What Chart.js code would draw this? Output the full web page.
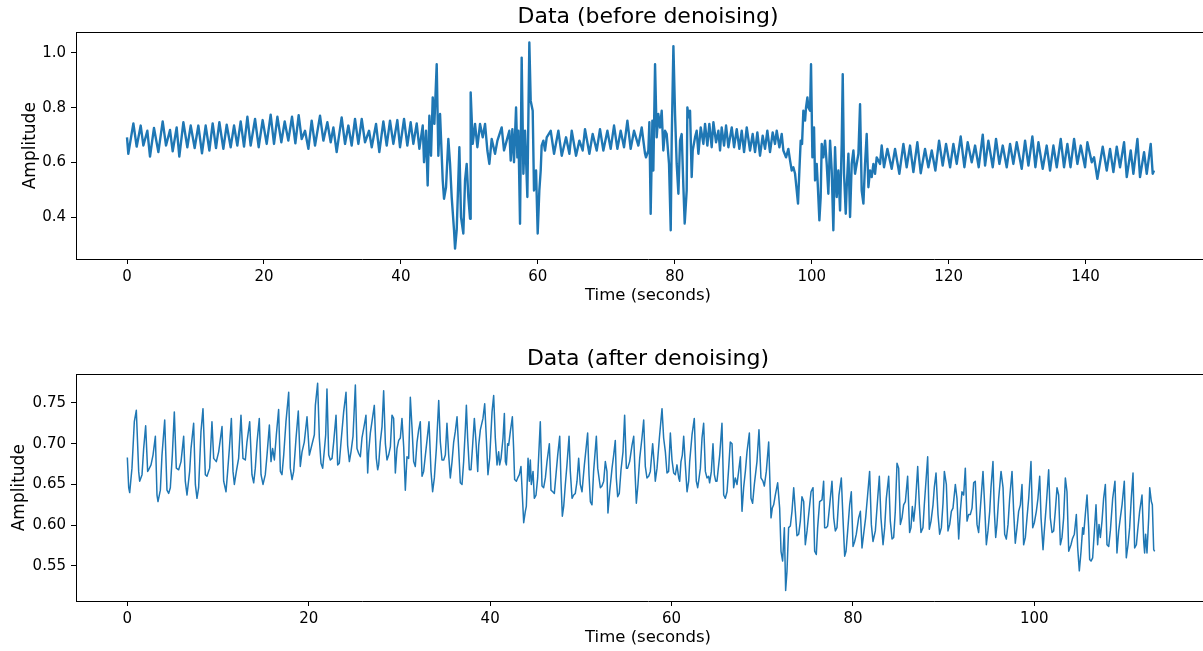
<!DOCTYPE html>
<html>
<head>
<meta charset="utf-8">
<script src="https://cdn.jsdelivr.net/npm/chart.js@4.4.1/dist/chart.umd.min.js"></script>
<style>
  html, body { margin: 0; padding: 0; background: #fff; overflow: hidden; }
  canvas { position: absolute; left: 0; }
  #topChart { top: 0; }
  #bottomChart { top: 342px; }
</style>
</head>
<body>
<canvas id="topChart" width="1220" height="310"></canvas>
<canvas id="bottomChart" width="1220" height="310"></canvas>
<script>
// --- data ---
const rawTime = [
  0, 0.19, 0.93, 1.41, 2.0, 2.39, 2.97, 3.36, 3.94, 4.58,
  5.21, 5.70, 6.28, 6.67, 7.25, 7.64, 8.23, 8.81, 9.30, 9.88,
  10.42, 10.95, 11.49, 12.03, 12.51, 13.0, 13.49, 14.07, 14.56, 15.14,
  15.63, 16.11, 16.6, 17.09, 17.58, 18.06, 18.7, 19.23, 19.81, 20.4,
  20.98, 21.47, 21.96, 22.54, 23.03, 23.56, 24.1, 24.59, 25.07, 25.51,
  26.0, 26.49,
  26.97, 27.46, 28.19, 28.68, 29.26, 29.75, 30.14, 30.62, 31.35, 31.84,
  32.33, 32.81, 33.3, 33.79, 34.28, 34.76, 35.35, 35.74, 36.37, 36.85,
  37.44, 37.93, 38.41, 38.9, 39.48, 39.87, 40.46, 40.94, 41.43, 41.82,
  42.31, 42.7, 43.19, 43.38, 43.67, 43.91, 44.16, 44.4, 44.65, 44.89,
  45.23, 45.47, 45.72, 46.11, 46.3, 46.59, 46.93, 47.18, 47.42, 47.76,
  47.91, 48.15, 48.54, 48.78, 49.12, 49.37, 49.61, 49.85, 50.1, 50.19,
  50.49, 50.83, 51.17, 51.56, 51.95, 52.29, 52.63, 52.92, 53.26, 53.75,
  54.1,
  54.72, 55.06, 55.45, 55.84, 56.04, 56.28, 56.52, 56.82, 57.01, 57.16,
  57.40, 57.64, 57.89, 58.13, 58.47, 58.76, 58.96, 59.25, 59.44, 59.74,
  59.98, 60.22, 60.42, 60.56, 60.81, 61.05, 61.30, 61.88, 62.37, 63.0,
  63.49, 64.12, 64.61, 64.95, 65.58, 66.07, 66.55, 66.89, 67.53, 68.01,
  68.60, 69.08, 69.57, 70.16, 70.64, 71.13, 71.62, 72.10, 72.59, 73.08,
  73.56, 74.05, 74.68, 75.17, 75.66, 75.80, 76.14, 76.29, 76.48, 76.73,
  76.87, 77.12, 77.36, 77.60, 77.85, 78.09, 78.33, 78.58, 78.82, 79.16,
  79.41, 79.55, 79.80, 80.04, 80.28, 80.53, 80.77, 81.01, 81.26, 81.45,
  81.74, 81.84, 82.04, 82.23, 82.47, 82.62, 82.96, 83.20, 83.45, 83.79,
  84.18, 84.42, 84.76, 85.05, 85.39, 85.64, 86.03, 86.37, 86.61, 86.85,
  87.20, 87.49, 87.83, 88.32, 88.66, 89.05, 89.43, 89.78, 90.12, 90.51,
  90.99, 91.38, 91.72, 92.06, 92.45, 92.84, 93.18, 93.52, 93.91, 94.30,
  94.64, 94.89, 95.28, 95.62, 95.86, 96.25, 96.59, 96.84, 97.08, 97.32,
  97.57, 97.81, 98.00, 98.20, 98.39, 98.59, 98.78, 99.03, 99.17, 99.37,
  99.51, 99.76, 99.90, 100.10, 100.34, 100.49, 100.73, 100.88, 101.12, 101.31,
  101.46, 101.70, 101.95, 102.19, 102.43, 102.68, 102.92, 103.16, 103.41, 103.65,
  103.89, 104.14, 104.38, 104.53, 104.72, 104.97, 105.11, 105.36, 105.60, 105.84,
  106.09, 106.33, 106.57, 106.82, 107.06, 107.30, 107.55, 107.79, 108.03, 108.28,
  108.52, 108.76, 109.01, 109.25, 109.49, 109.98,
  110.22, 110.56, 111.05, 111.68, 112.17, 112.80, 113.39, 113.87, 114.36, 114.85,
  115.43, 115.92, 116.55, 117.04, 117.53, 118.06, 118.60, 119.13, 119.62, 120.21,
  120.69, 121.18, 121.76, 122.30, 122.78, 123.37, 123.86, 124.39, 124.98, 125.32,
  125.80, 126.44, 126.92, 127.41, 127.90, 128.48, 128.97, 129.45, 129.94, 130.67,
  131.16, 131.65, 132.23, 132.67, 133.11, 133.74, 134.32, 134.81, 135.30, 135.79,
  136.37, 136.85, 137.34, 137.80,
  138.32, 138.80, 139.29, 139.92, 140.26, 140.90, 141.24, 141.72, 142.50, 143.09,
  143.57, 144.06, 144.55, 145.03, 145.62, 146.01, 146.59, 146.98, 147.57, 147.95,
  148.54, 148.93, 149.51, 149.80, 150.0
];
const rawAmp = [
  0.692, 0.632, 0.743, 0.658, 0.735, 0.662, 0.716, 0.622, 0.726, 0.638,
  0.750, 0.662, 0.719, 0.641, 0.728, 0.622, 0.747, 0.656, 0.735, 0.653,
  0.735, 0.634, 0.735, 0.644, 0.743, 0.653, 0.747, 0.650, 0.738, 0.656,
  0.735, 0.662, 0.750, 0.658, 0.767, 0.662, 0.759, 0.656, 0.755, 0.668,
  0.775, 0.668, 0.767, 0.674, 0.750, 0.680, 0.767, 0.670, 0.773, 0.686,
  0.716, 0.650,
  0.753, 0.662, 0.771, 0.680, 0.747, 0.674, 0.728, 0.638, 0.765, 0.668,
  0.735, 0.662, 0.759, 0.668, 0.759, 0.674, 0.716, 0.656, 0.741, 0.638,
  0.750, 0.662, 0.753, 0.668, 0.755, 0.656, 0.759, 0.662, 0.747, 0.668,
  0.743, 0.650, 0.735, 0.601, 0.716, 0.516, 0.771, 0.625, 0.838, 0.741,
  0.959, 0.625, 0.777, 0.535, 0.468, 0.510, 0.686, 0.595, 0.474, 0.353,
  0.286, 0.353, 0.656, 0.401, 0.341, 0.535, 0.595, 0.474, 0.395, 0.856,
  0.668, 0.741, 0.656, 0.741, 0.692, 0.741, 0.644, 0.595, 0.686, 0.632,
  0.680,
  0.728, 0.644, 0.680, 0.716, 0.607, 0.722, 0.601, 0.801, 0.619, 0.716,
  0.377, 0.983, 0.559, 0.716, 0.474, 1.038, 0.825, 0.789, 0.498, 0.571,
  0.341, 0.498, 0.571, 0.662, 0.680, 0.644, 0.692, 0.716, 0.632, 0.716,
  0.625, 0.692, 0.632, 0.716, 0.625, 0.680, 0.644, 0.722, 0.632, 0.704,
  0.644, 0.722, 0.644, 0.716, 0.650, 0.735, 0.650, 0.716, 0.656, 0.753,
  0.650, 0.716, 0.662, 0.728, 0.632, 0.619, 0.644, 0.747, 0.413, 0.753,
  0.571, 0.959, 0.692, 0.777, 0.728, 0.789, 0.644, 0.716, 0.704, 0.595,
  0.353, 0.680, 1.025, 0.777, 0.595, 0.486, 0.680, 0.704, 0.510, 0.377,
  0.498, 0.801, 0.765, 0.789, 0.547, 0.644, 0.692, 0.716, 0.632, 0.728,
  0.668, 0.741, 0.662, 0.741, 0.656, 0.747, 0.674, 0.716, 0.644, 0.728,
  0.662, 0.735, 0.656, 0.728, 0.656, 0.722, 0.650, 0.716, 0.638, 0.728,
  0.644, 0.704, 0.638, 0.710, 0.625, 0.698, 0.650, 0.716, 0.638, 0.710,
  0.668, 0.716, 0.656, 0.704, 0.644, 0.619, 0.650, 0.607, 0.571, 0.583,
  0.559, 0.498, 0.450, 0.571, 0.680, 0.668, 0.789, 0.753, 0.801, 0.838,
  0.801, 0.789, 0.959, 0.619, 0.728, 0.535, 0.595, 0.522, 0.389, 0.474,
  0.668, 0.619, 0.680, 0.595, 0.486, 0.680, 0.571, 0.353, 0.656, 0.474,
  0.571, 0.425, 0.668, 0.922, 0.559, 0.413, 0.510, 0.632, 0.401, 0.595,
  0.644, 0.559, 0.595, 0.632, 0.813, 0.498, 0.450, 0.595, 0.704, 0.510,
  0.571, 0.547, 0.595, 0.559, 0.619, 0.595,
  0.662, 0.583, 0.650, 0.577, 0.650, 0.559, 0.668, 0.583, 0.662, 0.565,
  0.674, 0.561, 0.650, 0.583, 0.644, 0.571, 0.680, 0.589, 0.668, 0.583,
  0.668, 0.595, 0.695, 0.583, 0.674, 0.601, 0.662, 0.583, 0.702, 0.589,
  0.680, 0.583, 0.686, 0.595, 0.662, 0.583, 0.668, 0.595, 0.674, 0.577,
  0.680, 0.589, 0.695, 0.583, 0.674, 0.577, 0.662, 0.571, 0.662, 0.583,
  0.686, 0.583, 0.668, 0.583,
  0.686, 0.595, 0.662, 0.583, 0.674, 0.601, 0.619, 0.541, 0.658, 0.571,
  0.650, 0.565, 0.658, 0.583, 0.674, 0.547, 0.644, 0.559, 0.686, 0.547,
  0.638, 0.559, 0.668, 0.559, 0.571
];

const cleanTime = [
  0, 0.15, 0.26, 0.51, 0.77, 0.99, 1.25, 1.36, 1.62, 1.80,
  2.02, 2.24, 2.35, 2.61, 2.83, 3.09, 3.27, 3.38, 3.64, 3.82,
  4.12, 4.37, 4.56, 4.74, 4.96, 5.18, 5.40, 5.66, 5.92, 6.21,
  6.39, 6.58, 6.87, 7.02, 7.31, 7.50, 7.68, 7.86, 8.12, 8.34,
  8.60, 8.78, 9.08, 9.33, 9.52, 9.81, 10.07, 10.44, 10.62, 10.88,
  11.06, 11.25, 11.47, 11.65, 11.80, 12.02, 12.27, 12.53, 12.75, 13.01,
  13.19, 13.49, 13.74, 13.93, 14.11, 14.30, 14.55, 14.74, 14.96, 15.21,
  15.40, 15.66, 15.84, 16.02, 16.21, 16.43, 16.68, 16.87, 17.05, 17.24,
  17.49, 17.79, 17.97, 18.16, 18.34, 18.60, 18.85, 19.07, 19.26, 19.51,
  19.81, 20.07,
  20.62, 20.73, 20.98, 21.17, 21.35, 21.54, 21.72, 21.87, 22.01, 22.20,
  22.38, 22.57, 22.75, 23.01, 23.19, 23.37, 23.56, 23.85, 24.11, 24.29,
  24.48, 24.66, 24.88, 25.14, 25.32, 25.51, 25.69, 25.87, 26.13, 26.31,
  26.50, 26.61, 26.79, 27.23, 27.45, 27.60, 27.71, 27.89, 28.08, 28.26,
  28.45, 28.63, 28.81, 29.00, 29.18, 29.36, 29.55, 29.73, 29.92, 30.10,
  30.28, 30.47, 30.65, 30.83, 31.02, 31.20, 31.39, 31.57, 31.75, 31.94,
  32.12, 32.30, 32.49, 32.67, 32.86, 33.04, 33.26, 33.48, 33.66, 33.85,
  34.07, 34.33, 34.51, 34.69, 34.88, 35.06, 35.24, 35.43, 35.61, 35.80,
  35.98, 36.16, 36.35, 36.53, 36.71, 36.90, 37.08, 37.27, 37.38, 37.52,
  37.71, 37.89, 38.07, 38.26, 38.44, 38.63, 38.74, 38.92, 39.21, 39.40,
  39.58, 39.76, 39.95, 40.21, 40.39, 40.57, 40.76, 40.94,
  41.05, 41.20, 41.42, 41.57, 41.68, 41.79, 41.93, 42.04, 42.23, 42.45,
  42.59, 42.70, 42.89, 43.04, 43.22, 43.40, 43.51, 43.70, 43.88, 43.99,
  44.18, 44.32, 44.43, 44.54, 44.73, 44.87, 45.06, 45.24, 45.53, 45.72,
  45.90, 46.09, 46.27, 46.53, 46.71, 46.90, 47.08, 47.26, 47.45, 47.67,
  47.81, 47.96, 48.11, 48.29, 48.47, 48.70, 48.84, 49.03, 49.21, 49.39,
  49.58, 49.76, 49.94, 50.13, 50.39, 50.75, 50.90, 51.05, 51.23, 51.41,
  51.71, 51.86, 52.15, 52.33, 52.52, 52.70, 52.88, 52.99, 53.18, 53.44,
  53.62, 53.80, 53.91, 54.06, 54.24, 54.43, 54.65, 54.83, 55.02, 55.16,
  55.38, 55.64, 55.83, 55.97, 56.12, 56.30, 56.49, 56.74, 56.93, 57.11,
  57.29, 57.48, 57.66, 57.92, 58.10, 58.21, 58.40, 58.66, 58.95, 59.13,
  59.32, 59.50, 59.68, 59.87, 60.05, 60.24, 60.42, 60.60, 60.79, 60.90,
  61.04, 61.19, 61.34, 61.52, 61.71, 61.89,
  62.00, 62.26, 62.51, 62.73, 62.88, 62.99, 63.18, 63.36, 63.54, 63.73,
  63.91, 64.09, 64.20, 64.39, 64.57, 64.72, 64.87, 65.01, 65.31, 65.56,
  65.75, 65.93, 66.12, 66.30, 66.48, 66.67, 66.85, 67.03, 67.22, 67.40,
  67.59, 67.77, 67.95, 68.14, 68.32, 68.58, 68.76, 68.94, 69.13, 69.42,
  69.64, 69.86, 70.08, 70.23, 70.45, 70.71, 70.97, 71.11, 71.26, 71.44,
  71.70, 71.92, 72.07, 72.25, 72.44, 72.58, 72.73, 72.91, 73.10, 73.28,
  73.47, 73.65, 73.83, 74.02, 74.20, 74.38, 74.57, 74.75, 74.94, 75.12,
  75.38, 75.60, 75.78, 75.96, 76.11, 76.33, 76.59, 76.77, 76.88, 77.07,
  77.21, 77.44, 77.69, 77.88, 78.06, 78.24, 78.46, 78.72, 78.90, 79.09,
  79.24, 79.42, 79.64, 79.82, 80.01, 80.19, 80.37, 80.63, 80.82, 81.00,
  81.18, 81.40, 81.62, 81.84, 82.03, 82.21, 82.47, 82.73, 82.91,
  83.09, 83.32, 83.50, 83.68, 83.94, 84.12, 84.31, 84.49, 84.67, 84.86,
  85.04, 85.23, 85.41, 85.59, 85.78, 86.03, 86.25, 86.40, 86.55, 86.70,
  86.88, 87.14, 87.32, 87.50, 87.72, 87.87, 88.24, 88.42, 88.61, 88.83,
  88.97, 89.16, 89.38, 89.56, 89.75, 89.93, 90.08, 90.30, 90.48, 90.67,
  90.85, 91.03, 91.29, 91.47, 91.66, 91.84, 92.02, 92.21, 92.39, 92.58,
  92.76, 92.94, 93.13, 93.31, 93.49, 93.68, 93.86, 94.05, 94.34, 94.52,
  94.71, 94.89, 95.08, 95.22, 95.44, 95.59, 95.74, 95.88, 96.07, 96.33,
  96.55, 96.73, 96.91, 97.10, 97.28, 97.54, 97.72, 97.90, 98.09, 98.27,
  98.46, 98.64, 98.82, 99.01, 99.19, 99.38, 99.63, 99.82, 100.00, 100.22,
  100.40, 100.59, 100.74, 100.96, 101.10, 101.32, 101.58, 101.76, 101.95, 102.13,
  102.31, 102.50, 102.68, 102.87, 103.05, 103.23, 103.42, 103.60, 103.79,
  104.04, 104.19, 104.41, 104.63, 104.78, 104.96, 105.15, 105.33, 105.44, 105.62,
  105.81, 105.99, 106.10, 106.25, 106.43, 106.62, 106.80, 106.98, 107.13, 107.28,
  107.46, 107.64, 107.83, 108.01, 108.20, 108.38, 108.64, 108.89, 109.11, 109.30,
  109.48, 109.67, 109.92, 110.14, 110.33, 110.51, 110.69, 110.88, 111.06, 111.25,
  111.39, 111.61, 111.87, 112.06, 112.16, 112.27, 112.42, 112.61, 112.72, 112.90,
  113.01, 113.16, 113.27
];
const cleanAmp = [
  0.683, 0.646, 0.640, 0.670, 0.727, 0.741, 0.666, 0.654, 0.662, 0.694,
  0.722, 0.666, 0.668, 0.674, 0.686, 0.709, 0.637, 0.629, 0.643, 0.686,
  0.729, 0.643, 0.639, 0.646, 0.686, 0.739, 0.670, 0.668, 0.678, 0.709,
  0.654, 0.637, 0.666, 0.694, 0.725, 0.650, 0.633, 0.646, 0.715, 0.743,
  0.662, 0.660, 0.670, 0.727, 0.682, 0.678, 0.690, 0.721, 0.654, 0.641,
  0.666, 0.694, 0.731, 0.666, 0.650, 0.666, 0.682, 0.735, 0.682, 0.680,
  0.702, 0.727, 0.662, 0.652, 0.670, 0.702, 0.731, 0.662, 0.650, 0.662,
  0.686, 0.723, 0.678, 0.694, 0.680, 0.711, 0.742, 0.666, 0.662, 0.686,
  0.727, 0.763, 0.670, 0.656, 0.666, 0.707, 0.740, 0.672, 0.690, 0.702,
  0.733, 0.686,
  0.711, 0.747, 0.774, 0.707, 0.676, 0.670, 0.692, 0.711, 0.767, 0.686,
  0.680, 0.682, 0.702, 0.735, 0.674, 0.676, 0.702, 0.739, 0.763, 0.698,
  0.678, 0.690, 0.709, 0.772, 0.694, 0.688, 0.684, 0.707, 0.723, 0.735,
  0.664, 0.690, 0.713, 0.747, 0.682, 0.668, 0.674, 0.702, 0.721, 0.765,
  0.700, 0.680, 0.686, 0.696, 0.735, 0.731, 0.664, 0.694, 0.704, 0.707,
  0.731, 0.696, 0.643, 0.684, 0.682, 0.757, 0.719, 0.678, 0.672, 0.702,
  0.717, 0.727, 0.660, 0.666, 0.686, 0.704, 0.727, 0.666, 0.641, 0.658,
  0.694, 0.753, 0.702, 0.680, 0.680, 0.686, 0.725, 0.686, 0.658, 0.678,
  0.702, 0.715, 0.733, 0.694, 0.652, 0.650, 0.678, 0.719, 0.747, 0.707,
  0.668, 0.668, 0.698, 0.731, 0.702, 0.666, 0.698, 0.717, 0.731, 0.749,
  0.707, 0.662, 0.682, 0.739, 0.759, 0.707, 0.674, 0.690,
  0.674, 0.682, 0.707, 0.737, 0.678, 0.674, 0.700, 0.698, 0.715, 0.733,
  0.694, 0.656, 0.654, 0.658, 0.662, 0.672, 0.646, 0.603, 0.617, 0.623,
  0.682, 0.654, 0.680, 0.650, 0.666, 0.633, 0.637, 0.658, 0.727, 0.648,
  0.646, 0.658, 0.678, 0.700, 0.643, 0.641, 0.639, 0.662, 0.686, 0.709,
  0.654, 0.611, 0.623, 0.650, 0.674, 0.709, 0.666, 0.633, 0.637, 0.639,
  0.654, 0.682, 0.650, 0.641, 0.674, 0.713, 0.662, 0.629, 0.625, 0.666,
  0.709, 0.670, 0.646, 0.648, 0.654, 0.678, 0.666, 0.615, 0.641, 0.670,
  0.686, 0.704, 0.658, 0.635, 0.639, 0.668, 0.690, 0.735, 0.670, 0.670,
  0.678, 0.698, 0.709, 0.666, 0.627, 0.650, 0.682, 0.707, 0.729, 0.672,
  0.658, 0.660, 0.666, 0.700, 0.674, 0.654, 0.670, 0.707, 0.743, 0.707,
  0.690, 0.664, 0.666, 0.713, 0.680, 0.664, 0.662, 0.674, 0.658, 0.654,
  0.678, 0.686, 0.709, 0.674, 0.641, 0.654,
  0.678, 0.711, 0.731, 0.654, 0.646, 0.654, 0.670, 0.707, 0.725, 0.666,
  0.658, 0.660, 0.652, 0.666, 0.700, 0.662, 0.654, 0.654, 0.686, 0.725,
  0.637, 0.633, 0.641, 0.670, 0.702, 0.700, 0.646, 0.658, 0.650, 0.666,
  0.684, 0.617, 0.646, 0.666, 0.690, 0.713, 0.633, 0.627, 0.650, 0.678,
  0.717, 0.658, 0.654, 0.648, 0.666, 0.702, 0.609, 0.621, 0.625, 0.637,
  0.652, 0.621, 0.568, 0.556, 0.597, 0.520, 0.544, 0.597, 0.599, 0.617,
  0.646, 0.617, 0.587, 0.589, 0.605, 0.635, 0.629, 0.576, 0.593, 0.613,
  0.641, 0.646, 0.568, 0.564, 0.597, 0.629, 0.631, 0.654, 0.597, 0.597,
  0.599, 0.625, 0.654, 0.609, 0.593, 0.597, 0.637, 0.658, 0.609, 0.562,
  0.568, 0.593, 0.625, 0.641, 0.574, 0.580, 0.589, 0.609, 0.617, 0.572,
  0.589, 0.609, 0.637, 0.666, 0.601, 0.580, 0.593, 0.633, 0.660,
  0.609, 0.576, 0.597, 0.633, 0.660, 0.605, 0.583, 0.585, 0.617, 0.676,
  0.670, 0.601, 0.609, 0.625, 0.629, 0.660, 0.591, 0.597, 0.623, 0.605,
  0.625, 0.672, 0.625, 0.591, 0.597, 0.625, 0.684, 0.595, 0.605, 0.625,
  0.646, 0.664, 0.613, 0.589, 0.597, 0.627, 0.666, 0.650, 0.593, 0.601,
  0.617, 0.621, 0.650, 0.633, 0.583, 0.617, 0.641, 0.637, 0.670, 0.605,
  0.613, 0.613, 0.621, 0.652, 0.654, 0.601, 0.591, 0.621, 0.666, 0.625,
  0.576, 0.593, 0.617, 0.646, 0.678, 0.617, 0.585, 0.601, 0.633, 0.666,
  0.646, 0.589, 0.583, 0.601, 0.633, 0.666, 0.617, 0.578, 0.597, 0.617,
  0.625, 0.650, 0.576, 0.585, 0.609, 0.633, 0.678, 0.597, 0.603, 0.617,
  0.633, 0.660, 0.609, 0.570, 0.593, 0.625, 0.668, 0.609, 0.591, 0.593,
  0.617, 0.646, 0.637, 0.576, 0.585, 0.609, 0.658, 0.641, 0.568,
  0.576, 0.583, 0.589, 0.613, 0.572, 0.544, 0.568, 0.597, 0.589, 0.613,
  0.637, 0.597, 0.558, 0.556, 0.560, 0.593, 0.625, 0.576, 0.601, 0.585,
  0.605, 0.633, 0.650, 0.576, 0.574, 0.593, 0.633, 0.654, 0.566, 0.593,
  0.609, 0.625, 0.654, 0.560, 0.576, 0.597, 0.633, 0.664, 0.572, 0.576,
  0.593, 0.617, 0.637, 0.580, 0.566, 0.589, 0.566, 0.609, 0.646, 0.629,
  0.625, 0.570, 0.568
];

// tick labels
const rawXTicks = [0, 20, 40, 60, 80, 100, 120, 140];
const rawYTicks = [0.4, 0.6, 0.8, 1.0];
const cleanXTicks = [0, 20, 40, 60, 80, 100];
const cleanYTicks = [0.55, 0.60, 0.65, 0.70, 0.75];

Chart.defaults.font.family = "'DejaVu Sans', sans-serif";
Chart.defaults.color = "#000";

// top spine (Chart.js only draws left/bottom borders)
const topSpine = {
  id: "topSpine",
  afterDraw(chart) {
    const { ctx, chartArea: a } = chart;
    ctx.save();
    ctx.strokeStyle = "#000";
    ctx.lineWidth = 1;
    ctx.beginPath();
    ctx.moveTo(a.left, Math.round(a.top) + 0.5);
    ctx.lineTo(a.right, Math.round(a.top) + 0.5);
    ctx.stroke();
    ctx.restore();
  }
};

function makeChart(canvasId, cfg) {
  const points = cfg.time.map((t, i) => ({ x: t, y: cfg.amp[i] }));
  return new Chart(document.getElementById(canvasId).getContext("2d"), {
    type: "scatter",
    data: {
      datasets: [{
        data: points,
        showLine: true,
        borderColor: "#1f77b4",
        borderWidth: cfg.lineWidth,
        borderJoinStyle: "round",
        pointRadius: 0,
        tension: 0
      }]
    },
    options: {
      responsive: false,
      animation: false,
      devicePixelRatio: 1,
      layout: { padding: 0 },
      plugins: {
        legend: { display: false },
        tooltip: { enabled: false },
        title: {
          display: true,
          text: cfg.title,
          fullSize: false,
          color: "#000",
          font: { size: 22, weight: "normal" },
          padding: { top: 4, bottom: 2 }
        }
      },
      scales: {
        x: {
          type: "linear",
          min: cfg.xMin,
          max: cfg.xMax,
          afterBuildTicks: axis => { axis.ticks = cfg.xTicks.map(value => ({ value })); },
          afterFit: scale => { scale.height = 51; },
          grid: { drawOnChartArea: false, drawTicks: true, tickLength: 5, tickColor: "#000" },
          border: { display: true, color: "#000", width: 1 },
          ticks: { color: "#000", font: { size: 15 }, padding: 4, maxRotation: 0, autoSkip: false },
          title: {
            display: true,
            text: "Time (seconds)",
            color: "#000",
            font: { size: 16.5 },
            padding: { top: 0, bottom: 4 }
          }
        },
        y: {
          min: cfg.yMin,
          max: cfg.yMax,
          afterBuildTicks: axis => { axis.ticks = cfg.yTicks.map(value => ({ value })); },
          afterFit: scale => { scale.width = 76; },
          grid: { drawOnChartArea: false, drawTicks: true, tickLength: 5, tickColor: "#000" },
          border: { display: true, color: "#000", width: 1 },
          ticks: {
            color: "#000",
            font: { size: 15 },
            padding: 5,
            autoSkip: false,
            callback: v => v.toFixed(cfg.yDigits)
          },
          title: {
            display: true,
            text: "Amplitude",
            color: "#000",
            font: { size: 17 },
            padding: { top: cfg.yTitlePad, bottom: 0 }
          }
        }
      }
    },
    plugins: [topSpine]
  });
}

makeChart("topChart", {
  title: "Data (before denoising)",
  time: rawTime,
  amp: rawAmp,
  lineWidth: 2.4,
  xMin: -7.45, xMax: 159.63,
  yMin: 0.248, yMax: 1.075,
  xTicks: rawXTicks,
  yTicks: rawYTicks,
  yDigits: 1,
  yTitlePad: 20
});

makeChart("bottomChart", {
  title: "Data (after denoising)",
  time: cleanTime,
  amp: cleanAmp,
  lineWidth: 1.5,
  xMin: -5.66, xMax: 120.47,
  yMin: 0.507, yMax: 0.785,
  xTicks: cleanXTicks,
  yTicks: cleanYTicks,
  yDigits: 2,
  yTitlePad: 9
});
</script>
</body>
</html>
